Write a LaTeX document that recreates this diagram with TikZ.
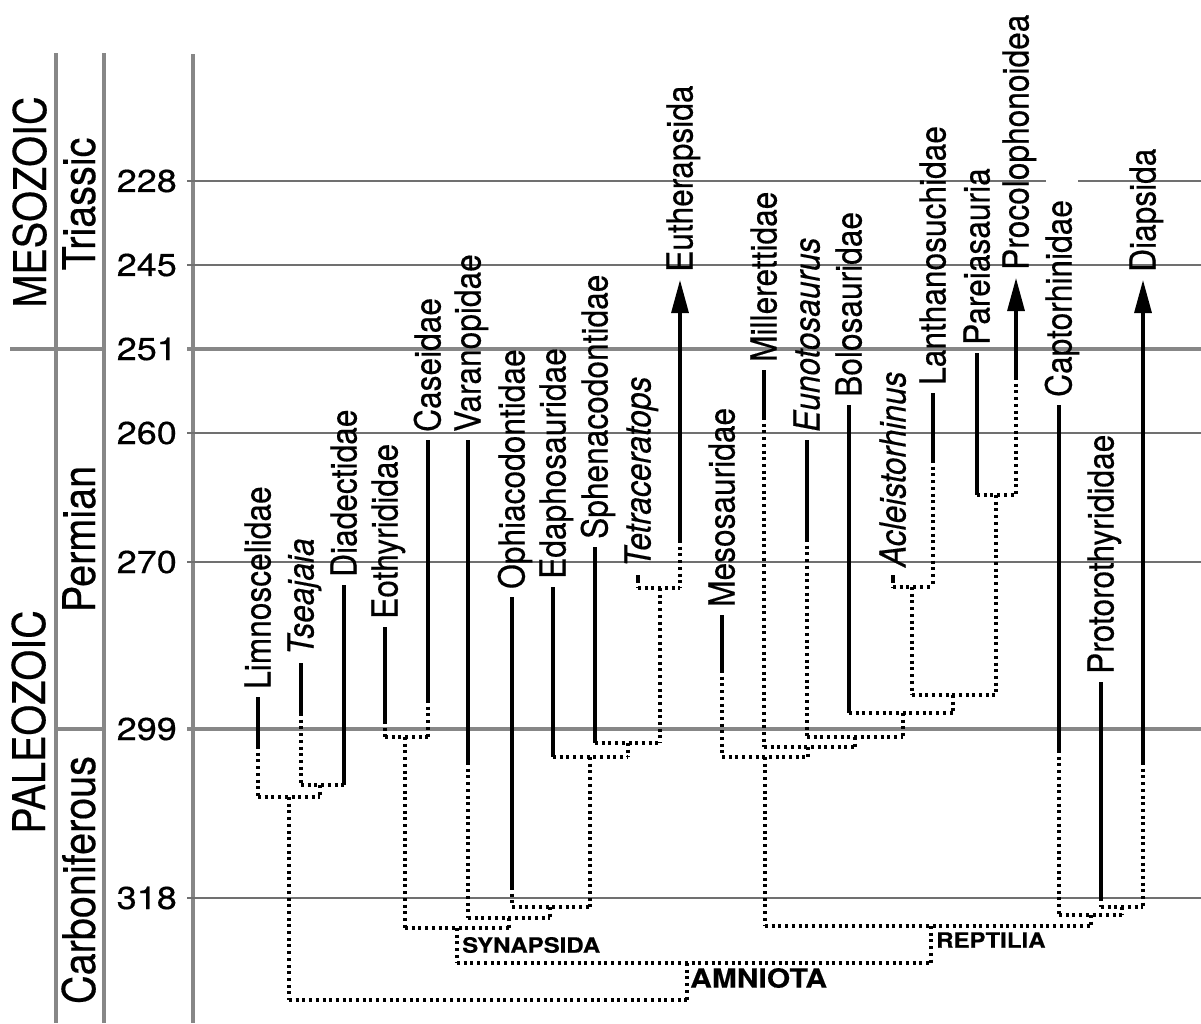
\documentclass[tikz,border=0pt]{standalone}
\usepackage{fontspec}
\setmainfont{TeX Gyre Heros}[FakeBold=0.4]
\usetikzlibrary{arrows.meta}
\definecolor{gridgray}{RGB}{112,112,112}
\definecolor{axisgray}{RGB}{135,135,135}
\tikzset{
  gridthin/.style={draw=gridgray, line width=2.3pt},
  gridthick/.style={draw=axisgray, line width=4.5pt},
  axisline/.style={draw=axisgray, line width=4pt},
  sol/.style={draw=black, line width=3.2pt},
  dotl/.style={draw=black, line width=3.2pt, dash pattern=on 3pt off 3.7pt},
  arr/.style={draw=black, line width=3.2pt, -{Triangle[length=33pt,width=17pt]}},
  taxon/.style={anchor=base west, inner sep=0pt, yscale=0.88, rotate=90, font=\fontsize{36}{40}\selectfont},
  era/.style={anchor=base, inner sep=0pt, yscale=0.88, rotate=90, font=\fontsize{45}{50}\selectfont},
  num/.style={anchor=east, inner sep=0pt, yscale=0.88, font=\fontsize{36}{40}\selectfont},
  clade/.style={anchor=west, inner sep=0pt, yscale=0.88, font=\bfseries\fontsize{24}{28}\selectfont},
}
% name, x, top, end of solid, end of dots, label
\newcommand{\taxonline}[6]{%
  \node[taxon] (#1) at ({#2+12.5},{#3-8}) {#6};
  \draw[sol] (#2,#3) -- (#2,#4);
  \draw[dotl] (#2,#4) -- (#2,#5);
}
% bar y, x1, x2, tick x, tick end
\newcommand{\cladebar}[5]{%
  \draw[dotl] (#2,#1) -- (#3,#1);
  \draw[dotl] (#4,#1) -- (#4,#5);
}
\begin{document}
\begin{tikzpicture}[x=1pt, y=-1pt]
\fill[white] (0,0) rectangle (1201,1023);
\useasboundingbox (0,0) rectangle (1201,1023);

% ---- time grid ----
\draw[axisline] (56,53) -- (56,1023);
\draw[axisline] (104,53) -- (104,1023);
\draw[axisline] (193,54) -- (193,1023);
\draw[gridthin] (187,181) -- (1046,181);
\draw[gridthin] (1078,181) -- (1201,181);
\foreach \yy in {265,433,562,898} {\draw[gridthin] (187,\yy) -- (1201,\yy);}
\draw[gridthick] (10,349) -- (106,349);
\draw[gridthick] (187,349) -- (1201,349);
\draw[gridthick] (56,729) -- (104,729);
\draw[gridthick] (187,729) -- (1201,729);

% ---- era / period labels ----
\node[era] (meso) at (46,202) {MESOZOIC};
\node[era] (paleo) at (45,722) {PALEOZOIC};
\node[era] (trias) at (95,204) {Triassic};
\node[era] (perm) at (95,539) {Permian};
\node[era] (carb) at (95,880) {Carboniferous};

% ---- ages ----
\node[num] (n228) at (177,181) {228};
\node[num] (n245) at (177,265) {245};
\node[num] (n251) at (177,349) {251};
\node[num] (n260) at (177,433) {260};
\node[num] (n270) at (177,562) {270};
\node[num] (n299) at (177,729) {299};
\node[num] (n318) at (177,898) {318};

% ---- taxa ----
\taxonline{limn}{258}{697}{746}{797}{Limnoscelidae}
\taxonline{tsea}{301}{663}{713}{785}{\itshape Tseajaia}
\taxonline{diad}{344}{585}{785}{785}{Diadectidae}
\taxonline{eoth}{385}{627}{721}{737}{Eothyrididae}
\taxonline{case}{428}{440}{700}{737}{Caseidae}
\taxonline{vara}{468}{440}{762}{918}{Varanopidae}
\taxonline{ophi}{512}{597}{887}{907}{Ophiacodontidae}
\taxonline{edap}{553}{587}{757}{757}{Edaphosauridae}
\taxonline{sphe}{595}{547}{743}{743}{Sphenacodontidae}
\taxonline{tetr}{638}{575}{580}{588}{\itshape Tetraceratops}
\node[taxon] (euth) at (692.5,272) {Eutherapsida};
\draw[arr] (680,540) -- (680,280);
\draw[dotl] (680,540) -- (680,588);

\taxonline{meso}{722}{615}{670}{757}{Mesosauridae}
\taxonline{mill}{764}{370}{417}{747}{Millerettidae}
\taxonline{euno}{807}{440}{539}{737}{\itshape Eunotosaurus}
\taxonline{bolo}{849}{405}{713}{713}{Bolosauridae}
\taxonline{acle}{893}{575}{580}{587}{\itshape Acleistorhinus}
\taxonline{lant}{933}{393}{460}{587}{Lanthanosuchidae}
\taxonline{pare}{977}{353}{495}{495}{Pareiasauria}
\node[taxon] (proc) at (1028.5,270) {Procolophonoidea};
\draw[arr] (1016,377) -- (1016,278);
\draw[dotl] (1016,377) -- (1016,495);
\taxonline{capt}{1059}{405}{750}{915}{Captorhinidae}
\taxonline{prot}{1101}{682}{898}{907}{Protorothyrididae}
\node[taxon] (diap) at (1155.5,272) {Diapsida};
\draw[arr] (1143,762) -- (1143,280);
\draw[dotl] (1143,762) -- (1143,907);

% ---- clade bars ----
\cladebar{785}{301}{344}{320}{797}
\cladebar{797}{258}{320}{289}{1000}
\cladebar{737}{385}{428}{405}{928}
\cladebar{588}{638}{680}{660}{743}
\cladebar{743}{595}{660}{628}{757}
\cladebar{757}{553}{628}{590}{907}
\cladebar{907}{512}{590}{550}{918}
\cladebar{918}{468}{550}{509}{928}
\cladebar{928}{405}{509}{457}{963}
\cladebar{963}{457}{931}{687}{1000}
\draw[dotl] (289,1000) -- (687,1000);

\cladebar{495}{977}{1016}{996}{695}
\cladebar{587}{893}{933}{912}{695}
\cladebar{695}{912}{996}{953}{713}
\cladebar{713}{849}{953}{903}{737}
\cladebar{737}{807}{903}{855}{747}
\cladebar{747}{764}{855}{808}{757}
\cladebar{757}{722}{808}{765}{926}
\cladebar{926}{765}{1091}{931}{963}
\cladebar{907}{1101}{1143}{1122}{915}
\cladebar{915}{1059}{1122}{1091}{926}

% ---- clade names ----
\node[clade] (syn) at (462,945) {SYNAPSIDA};
\node[clade] (rep) at (936,940) {REPTILIA};
\node[clade, font=\bfseries\fontsize{30}{34}\selectfont] (amn) at (690,978) {AMNIOTA};
\end{tikzpicture}
\end{document}
